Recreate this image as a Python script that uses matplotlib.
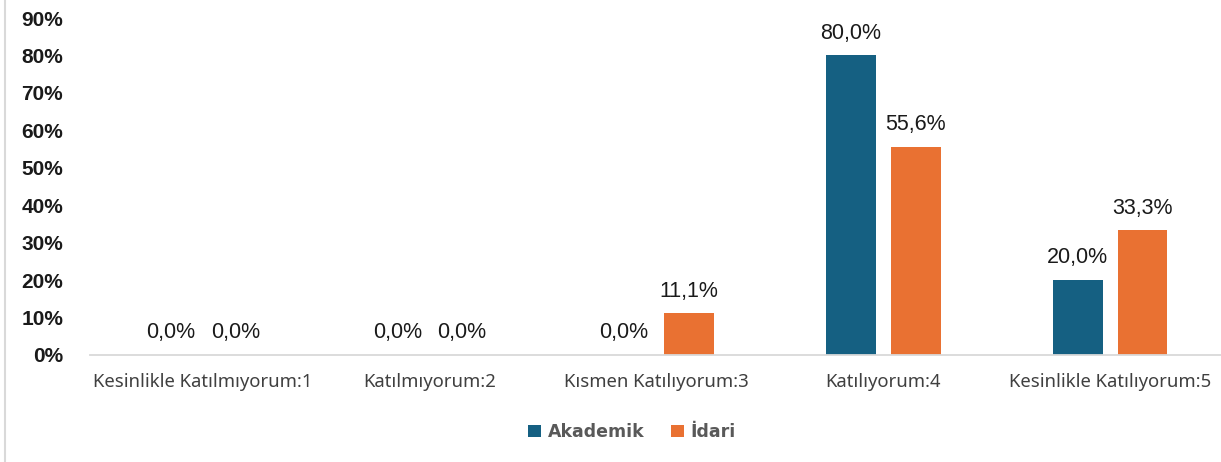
import matplotlib
matplotlib.use("Agg")
import matplotlib.pyplot as plt
import numpy as np
from matplotlib.patches import Patch
from matplotlib.lines import Line2D

# data
categories = ["Kesinlikle Katılmıyorum:1", "Katılmıyorum:2", "Kısmen Katılıyorum:3",
              "Katılıyorum:4", "Kesinlikle Katılıyorum:5"]
akademik = [0.0, 0.0, 0.0, 80.0, 20.0]
idari = [0.0, 0.0, 11.1, 55.6, 33.3]
series_names = ["Akademik", "İdari"]
y_ticks = [0, 10, 20, 30, 40, 50, 60, 70, 80, 90]

blue = "#156082"
orange = "#E97132"

W, H = 1221, 462
fig = plt.figure(figsize=(W / 100, H / 100), dpi=100)
ax = fig.add_axes([89.5 / W, (H - 355) / H, 1134 / W, 337 / H])

x = np.arange(len(categories))
bw = 0.22
off = 0.143
b1 = ax.bar(x - off, akademik, bw, color=blue)
b2 = ax.bar(x + off, idari, bw, color=orange)

for bars, vals in ((b1, akademik), (b2, idari)):
	for b, v in zip(bars, vals):
		ax.annotate(("%.1f%%" % v).replace(".", ","),
		            (b.get_x() + b.get_width() / 2, v),
		            xytext=(0, 8.5), textcoords="offset points",
		            ha="center", va="bottom", fontsize=15.5,
		            family="Liberation Sans", color="#1a1a1a")

ax.set_xlim(-0.5, len(categories) - 0.5)
ax.set_ylim(0, 90)
ax.set_yticks(y_ticks)
ax.set_yticklabels(["%d%%" % t for t in y_ticks], fontsize=15,
                   fontweight="bold", family="Liberation Sans", color="#1a1a1a")
ax.set_xticks(x)
ax.set_xticklabels(categories, fontsize=13.3, family="Noto Sans", color="#404040")
ax.tick_params(axis="y", length=0, pad=19)
ax.tick_params(axis="x", length=0, pad=13)

for s in ("top", "right", "left"):
	ax.spines[s].set_visible(False)
ax.spines["bottom"].set_color("#D9D9D9")
ax.spines["bottom"].set_linewidth(1.3)

handles = [Patch(facecolor=blue), Patch(facecolor=orange)]
leg = fig.legend(handles, series_names, loc="center", bbox_to_anchor=(632 / W, 1 - 432 / H),
                 ncol=2, frameon=False, handlelength=0.75, handleheight=0.75,
                 handletextpad=0.4, columnspacing=1.5,
                 prop={"family": "DejaVu Sans", "weight": "bold", "size": 12.5})
for t in leg.get_texts():
	t.set_color("#595959")

# chart border on the left
fig.add_artist(Line2D([5 / W, 5 / W], [0, 1], transform=fig.transFigure,
                      color="#D9D9D9", linewidth=1.5))

fig.savefig("out.png", dpi=100)
